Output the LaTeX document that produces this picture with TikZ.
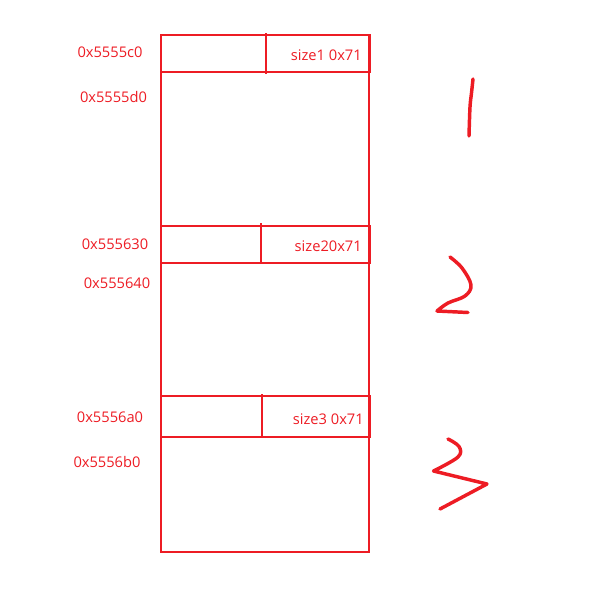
\documentclass[tikz,border=0pt]{standalone}
\usepackage{fontspec}
\setmainfont{Open Sans}
\usepackage{tikz}
\definecolor{inkred}{HTML}{ED1C24}
\tikzset{
  pen/.style={inkred, line width=1.5pt},
  hand/.style={inkred, line width=2.6pt, line cap=round, line join=round},
  addr/.style={inkred, font=\fontsize{11}{13}\selectfont, inner sep=0pt},
  sizelab/.style={addr, anchor=east}
}

\begin{document}
\begin{tikzpicture}[x=0.75pt,y=-0.75pt]
  \useasboundingbox (0,0) rectangle (605,607);
  \draw[pen] (161,35) rectangle (369,552);
  \foreach \hy/\ly/\dx/\dt/\db in {35/72/266/33/74, 226/263/261/223/263, 396/437/262/394/437} {
    \draw[pen] (161,\hy) rectangle (370,\ly);
    \draw[pen] (\dx,\dt) -- (\dx,\db);
  }
  % addresses
  \node[addr] (addr1) at (110,52) {0x5555c0};
  \node[addr] (data1) at (113.5,97) {0x5555d0};
  \node[addr] (addr2) at (115,244) {0x555630};
  \node[addr] (data2) at (117,283) {0x555640};
  \node[addr] (addr3) at (110,417) {0x5556a0};
  \node[addr] (data3) at (107,462) {0x5556b0};
  % size fields
  \node[sizelab] (size1) at (362,55) {size1 0x71};
  \node[sizelab] (size2) at (362,246) {size20x71};
  \node[sizelab] (size3) at (364,419) {size3 0x71};
  % hand written numbers
  \draw[hand] plot[smooth, tension=0.6] coordinates {(473,79) (471.5,93) (470,107) (469,136)};
  \draw[hand] plot[smooth, tension=0.6] coordinates {(450,257) (462,268) (471,285) (465,296) (448,303) (437,311)} -- (468,312.5);
  \draw[hand] plot[smooth, tension=0.6] coordinates {(448,439) (459,446.5) (458,457) (433.5,471)}
    -- (487,484) -- (440,509);
\end{tikzpicture}
\end{document}
